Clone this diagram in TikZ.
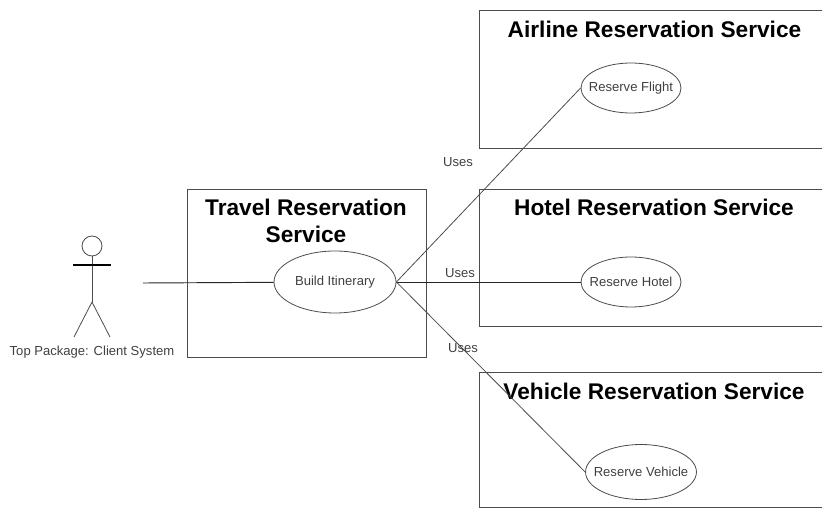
\documentclass[tikz,border=0pt]{standalone}
\usepackage{fontspec}
\setmainfont{Liberation Sans}
\usetikzlibrary{shapes.geometric}

\begin{document}
\begin{tikzpicture}[x=0.75pt, y=-0.75pt, line width=0.6pt, draw=black!70,
		box/.style = {draw, rectangle, inner sep=0pt},
		usecase/.style = {draw, ellipse, inner ysep=0pt, inner xsep=-6pt, font=\fontsize{9.8}{12}\selectfont, text=black!75},
		title/.style = {font=\fontsize{17}{20.5}\bfseries\selectfont, align=center},
		small/.style = {font=\fontsize{9.8}{12}\selectfont, text=black!75}]
	\clip (0,0) rectangle (822,509);
	% packages
	\node[box, minimum width=179.25pt, minimum height=126pt] (travel) at (306.5,273) {};
	\node[box, minimum width=262.5pt, minimum height=103.5pt] (airline) at (654,79) {};
	\node[box, minimum width=262.5pt, minimum height=102.75pt] (hotel) at (654,257.5) {};
	\node[box, minimum width=262.5pt, minimum height=101.25pt] (vehicle) at (654,439.5) {};
	\node[title] (traveltitle) at (306,221) {Travel Reservation\\Service};
	\node[title] (airlinetitle) at (654.5,29.5) {Airline Reservation Service};
	\node[title] (hoteltitle) at (654,207) {Hotel Reservation Service};
	\node[title] (vehicletitle) at (654,391) {Vehicle Reservation Service};
	% use cases
	\node[usecase, minimum width=91.5pt, minimum height=46.5pt] (build) at (335,282) {Build Itinerary};
	\node[usecase, minimum width=75pt, minimum height=37.5pt] (flight) at (631,88) {Reserve Flight};
	\node[usecase, minimum width=75pt, minimum height=37.5pt] (hotelcase) at (631,282) {Reserve Hotel};
	\node[usecase, minimum width=83pt, minimum height=41.25pt] (vehiclecase) at (641,472) {Reserve Vehicle};
	% actor
	\node[draw, circle, minimum size=15pt, inner sep=0pt] (head) at (92,246) {};
	\coordinate (armleft) at (73,265);
	\coordinate (armright) at (111,265);
	\coordinate (hip) at (92,302);
	\coordinate (footleft) at (74,337);
	\coordinate (footright) at (110,337);
	\coordinate (actorend) at (143,283);
	\draw (head) -- (hip);
	\draw[black, line width=0.8pt] (armleft) -- (armright);
	\draw (hip) -- (footleft);
	\draw (hip) -- (footright);
	\node[small] (actor) at (92,352) {Top Package: Client System};
	% connectors
	\draw[black!85, line width=0.7pt] (actorend) -- (build);
	\draw (build.east) -- (flight.west);
	\draw[black!85, line width=0.7pt] (build.east) -- (hotelcase.west);
	\draw (build.east) -- (vehiclecase.west);
	\node[small] (uses1) at (458,162) {Uses};
	\node[small] (uses2) at (460,273) {Uses};
	\node[small] (uses3) at (463,348) {Uses};
\end{tikzpicture}
\end{document}
